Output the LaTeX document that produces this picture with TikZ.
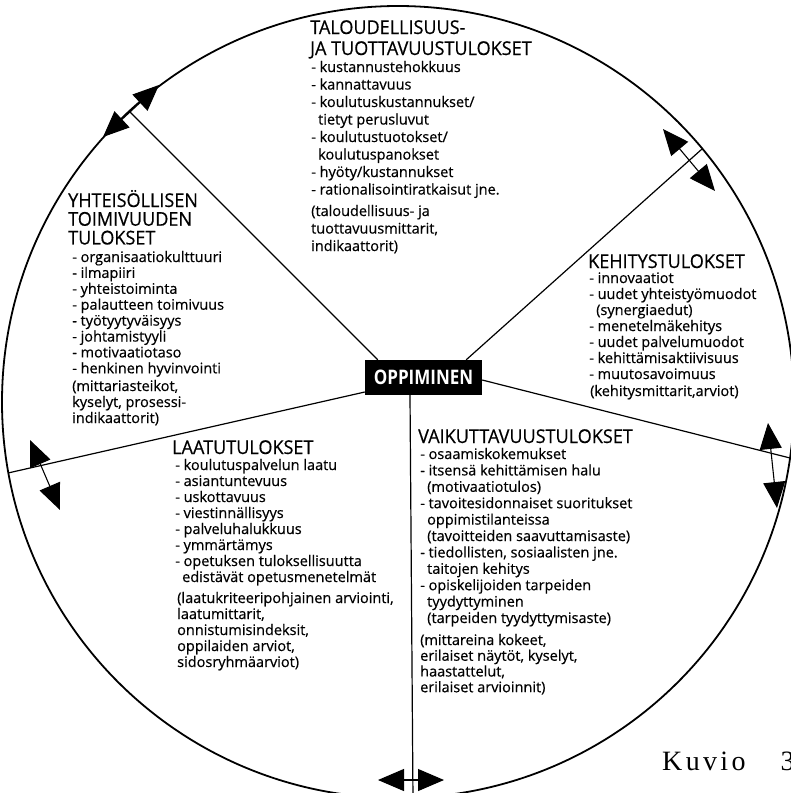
\documentclass[tikz,border=0pt]{standalone}
\usepackage{fontspec}
\setmainfont{Open Sans}[FakeBold=0.5]
\newfontfamily\headfont{Open Sans}[FakeStretch=0.95,FakeBold=0.5]
\newfontfamily\boxfont{Open Sans}[FakeStretch=0.85]
\newfontfamily\capfont{Liberation Serif}[LetterSpace=12]
\usetikzlibrary{arrows.meta}
\newcommand\contline{\hspace*{7pt}}

\begin{document}
\begin{tikzpicture}[x=1pt,y=-1pt,
  rim/.style={line width=1.8pt},
  spoke/.style={line width=1.2pt},
  twoway/.style={line width=1.1pt,
    {Triangle[length=26pt,width=22pt]}-{Triangle[length=26pt,width=22pt]}},
  heading/.style={anchor=base west, inner sep=0pt,
    font=\headfont\fontsize{19}{#1}\selectfont},
  itemlist/.style={anchor=base west, inner sep=0pt,
    font=\fontsize{14.5}{#1}\selectfont},
  hubbox/.style={fill=black, text=white, inner sep=0pt,
    minimum width=117pt, minimum height=35pt,
    font=\boxfont\bfseries\fontsize{20}{20}\selectfont},
]
\useasboundingbox (0,0) rectangle (791,793);
\clip (0,0) rectangle (791,793);

% outer circle
\draw[rim] (398,402) circle[radius=396];

% central box
\node[hubbox] (box) at (423.5,377.5) {OPPIMINEN};

% spoke ends on the rim
\coordinate (rimUL) at (129,111);
\coordinate (rimUR) at (702,149);
\coordinate (rimR) at (790,458);
\coordinate (rimL) at (8,473);
\coordinate (rimB) at (413,800);

\draw[spoke] ([xshift=13pt]box.north west) -- (rimUL);
\draw[spoke] ([xshift=-16pt]box.north east) -- (rimUR);
\draw[spoke] ([yshift=-2.5pt]box.east) -- (rimR);
\draw[spoke] ([yshift=-14.5pt]box.west) -- (rimL);
\draw[spoke] ([xshift=-13.5pt]box.south) -- (rimB);

% two-way arrows across the spokes near the rim
\coordinate (ulA) at (103,137);
\coordinate (ulB) at (159,85);
\coordinate (urA) at (663,129);
\coordinate (urB) at (715,191);
\coordinate (rA) at (768,423);
\coordinate (rB) at (777,508);
\coordinate (lA) at (30,440);
\coordinate (lB) at (60,510);
\coordinate (bA) at (378,780);
\coordinate (bB) at (444,780);
\draw[twoway] (ulA) -- (ulB);
\draw[twoway] (urA) -- (urB);
\draw[twoway] (rA) -- (rB);
\draw[twoway] (lA) -- (lB);
\draw[twoway] (bA) -- (bB);

% economy and productivity results
\node[heading=21] (topHead) at (310,34) {\begin{tabular}[t]{@{}l@{}}
TALOUDELLISUUS-\\
JA TUOTTAVUUSTULOKSET
\end{tabular}};
\node[itemlist=17.5] (topItems) at (311,72) {\begin{tabular}[t]{@{}l@{}}
- kustannustehokkuus\\
- kannattavuus\\
- koulutuskustannukset/\\
\contline tietyt perusluvut\\
- koulutustuotokset/\\
\contline koulutuspanokset\\
- hyöty/kustannukset\\
- rationalisointiratkaisut jne.
\end{tabular}};
\node[itemlist=17.5] (topMeas) at (311,216) {\begin{tabular}[t]{@{}l@{}}
(taloudellisuus- ja\\
tuottavuusmittarit,\\
indikaattorit)
\end{tabular}};

% community results
\node[heading=16.5] (leftHead) at (68,207) {\begin{tabular}[t]{@{}l@{}}
YHTEISÖLLISEN\\
TOIMIVUUDEN\\
TULOKSET
\end{tabular}};
\node[itemlist=15.9] (leftItems) at (72,262) {\begin{tabular}[t]{@{}l@{}}
- organisaatiokulttuuri\\
- ilmapiiri\\
- yhteistoiminta\\
- palautteen toimivuus\\
- työtyytyväisyys\\
- johtamistyyli\\
- motivaatiotaso\\
- henkinen hyvinvointi
\end{tabular}};
\node[itemlist=16] (leftMeas) at (72,391) {\begin{tabular}[t]{@{}l@{}}
(mittariasteikot,\\
kyselyt, prosessi-\\
indikaattorit)
\end{tabular}};

% development results
\node[heading=16] (rightHead) at (588,268) {KEHITYSTULOKSET};
\node[itemlist=16] (rightItems) at (589,283) {\begin{tabular}[t]{@{}l@{}}
- innovaatiot\\
- uudet yhteistyömuodot\\
\contline (synergiaedut)\\
- menetelmäkehitys\\
- uudet palvelumuodot\\
- kehittämisaktiivisuus\\
- muutosavoimuus
\end{tabular}};
\node[itemlist=16] (rightMeas) at (590,396) {(kehitysmittarit,arviot)};

% quality results
\node[heading=16] (qualHead) at (172,454) {LAATUTULOKSET};
\node[itemlist=16] (qualItems) at (175,470) {\begin{tabular}[t]{@{}l@{}}
- koulutuspalvelun laatu\\
- asiantuntevuus\\
- uskottavuus\\
- viestinnällisyys\\
- palveluhalukkuus\\
- ymmärtämys\\
- opetuksen tuloksellisuutta\\
\contline edistävät opetusmenetelmät
\end{tabular}};
\node[itemlist=16] (qualMeas) at (177,603) {\begin{tabular}[t]{@{}l@{}}
(laatukriteeripohjainen arviointi,\\
laatumittarit,\\
onnistumisindeksit,\\
oppilaiden arviot,\\
sidosryhmäarviot)
\end{tabular}};

% effectiveness results
\node[heading=16] (effHead) at (418,443) {VAIKUTTAVUUSTULOKSET};
\node[itemlist=16.4] (effItems) at (420,459) {\begin{tabular}[t]{@{}l@{}}
- osaamiskokemukset\\
- itsensä kehittämisen halu\\
\contline (motivaatiotulos)\\
- tavoitesidonnaiset suoritukset\\
\contline oppimistilanteissa\\
\contline (tavoitteiden saavuttamisaste)\\
- tiedollisten, sosiaalisten jne.\\
\contline taitojen kehitys\\
- opiskelijoiden tarpeiden\\
\contline tyydyttyminen\\
\contline (tarpeiden tyydyttymisaste)
\end{tabular}};
\node[itemlist=15.7] (effMeas) at (420,645) {\begin{tabular}[t]{@{}l@{}}
(mittareina kokeet,\\
erilaiset näytöt, kyselyt,\\
haastattelut,\\
erilaiset arvioinnit)
\end{tabular}};

% figure caption, running off the right edge
\node[anchor=base west, inner sep=0pt, font=\capfont\fontsize{28}{28}\selectfont]
  (caption) at (662,770) {Kuvio\hspace{35pt}3};
\end{tikzpicture}
\end{document}
